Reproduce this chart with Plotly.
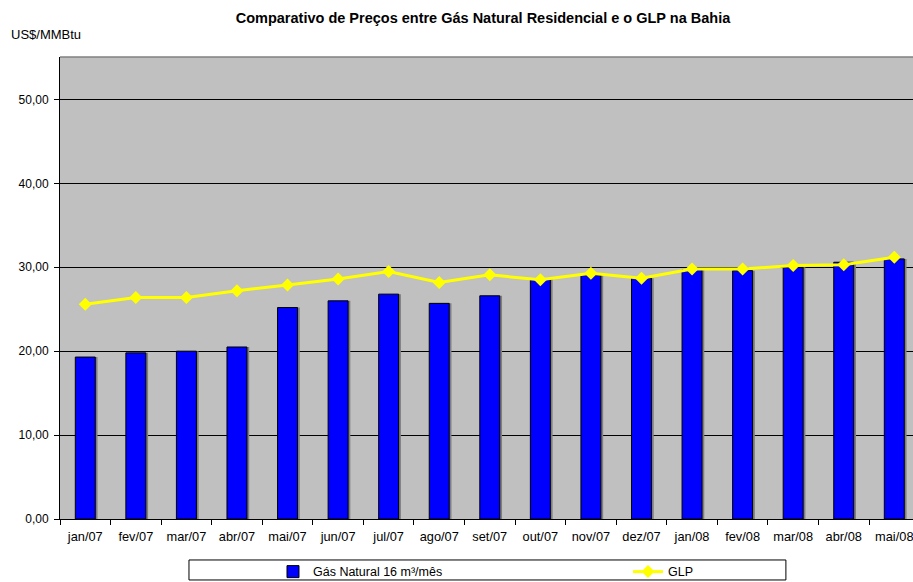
import plotly.graph_objects as go

meses = ["jan/07", "fev/07", "mar/07", "abr/07", "mai/07", "jun/07", "jul/07", "ago/07",
         "set/07", "out/07", "nov/07", "dez/07", "jan/08", "fev/08", "mar/08", "abr/08", "mai/08"]
gas_natural = [19.3, 19.8, 20.0, 20.5, 25.2, 26.0, 26.8, 25.7, 26.6, 28.6, 29.1, 28.7, 29.7, 29.6, 30.0, 30.6, 31.0]
glp = [25.6, 26.4, 26.4, 27.2, 27.9, 28.6, 29.5, 28.2, 29.1, 28.5, 29.3, 28.7, 29.8, 29.8, 30.2, 30.3, 31.2]

FONT = "Liberation Sans, Arial, sans-serif"
BAR_W = 0.395

fig = go.Figure()
# shadow of bars
fig.add_trace(go.Bar(
    x=meses, y=gas_natural, name="sombra", showlegend=False, hoverinfo="skip",
    width=BAR_W, offset=-BAR_W / 2 + 0.045,
    marker=dict(color="#7F7F7F", line=dict(width=0)),
))
fig.add_trace(go.Bar(
    x=meses, y=gas_natural, name="Gás Natural 16 m³/mês",
    width=BAR_W,
    marker=dict(color="#0000FF", line=dict(color="#000000", width=1)),
))
fig.add_trace(go.Scatter(
    x=meses, y=glp, name="GLP", mode="lines+markers",
    line=dict(color="#FFFF00", width=3),
    marker=dict(symbol="diamond", size=10, color="#FFFF00"),
))

fig.update_layout(
    width=913, height=582,
    margin=dict(l=60, r=0, t=57, b=63, autoexpand=False),
    paper_bgcolor="white",
    plot_bgcolor="#C0C0C0",
    separators=",.",
    barmode="overlay",
    font=dict(family=FONT, size=12, color="#000000"),
    title=dict(text="<b>Comparativo de Preços entre Gás Natural Residencial e o GLP na Bahia</b>",
               xref="container", yref="container",
               x=0.529, xanchor="center", y=0.969, yanchor="middle",
               font=dict(family=FONT, size=14.5)),
    showlegend=True,
    legend=dict(orientation="h", xref="container", yref="container",
                x=0.299, xanchor="left", y=0.0172, yanchor="middle",
                bgcolor="rgba(255,255,255,0)", borderwidth=0, entrywidth=310,
                font=dict(family=FONT, size=12.5), traceorder="normal"),
    xaxis=dict(type="category", range=[-0.5, 16.37], showline=True, linecolor="#000000", linewidth=1,
               ticks="outside", tickson="boundaries", ticklen=5, tickcolor="#000000",
               showgrid=False, tickfont=dict(size=12.8), ticklabelstandoff=6, automargin=False),
    yaxis=dict(range=[0, 55.06], dtick=10, tickformat=".2f", showline=True,
               linecolor="#000000", linewidth=1, ticks="outside", ticklen=5,
               tickcolor="#000000", showgrid=True, gridcolor="#000000", gridwidth=1,
               zeroline=False, tickfont=dict(size=12), ticklabelstandoff=3, automargin=False),
    annotations=[dict(text="US$/MMBtu", xref="paper", yref="paper", x=-0.06, y=1.049,
                      xanchor="left", yanchor="middle", showarrow=False,
                      font=dict(family=FONT, size=13))],
    shapes=[
        dict(type="line", xref="paper", yref="paper", x0=0, x1=1, y0=1, y1=1,
             line=dict(color="#808080", width=1.5)),
        dict(type="rect", xref="paper", yref="paper", x0=0.1512, x1=0.851, y0=-0.0887, y1=-0.132,
             line=dict(color="#000000", width=1), fillcolor="#FFFFFF", opacity=1, layer="above"),
    ],
)

fig.write_html("out.html", config={"displayModeBar": False},
               post_script="document.body.style.margin='0px';document.body.style.overflow='hidden';")
